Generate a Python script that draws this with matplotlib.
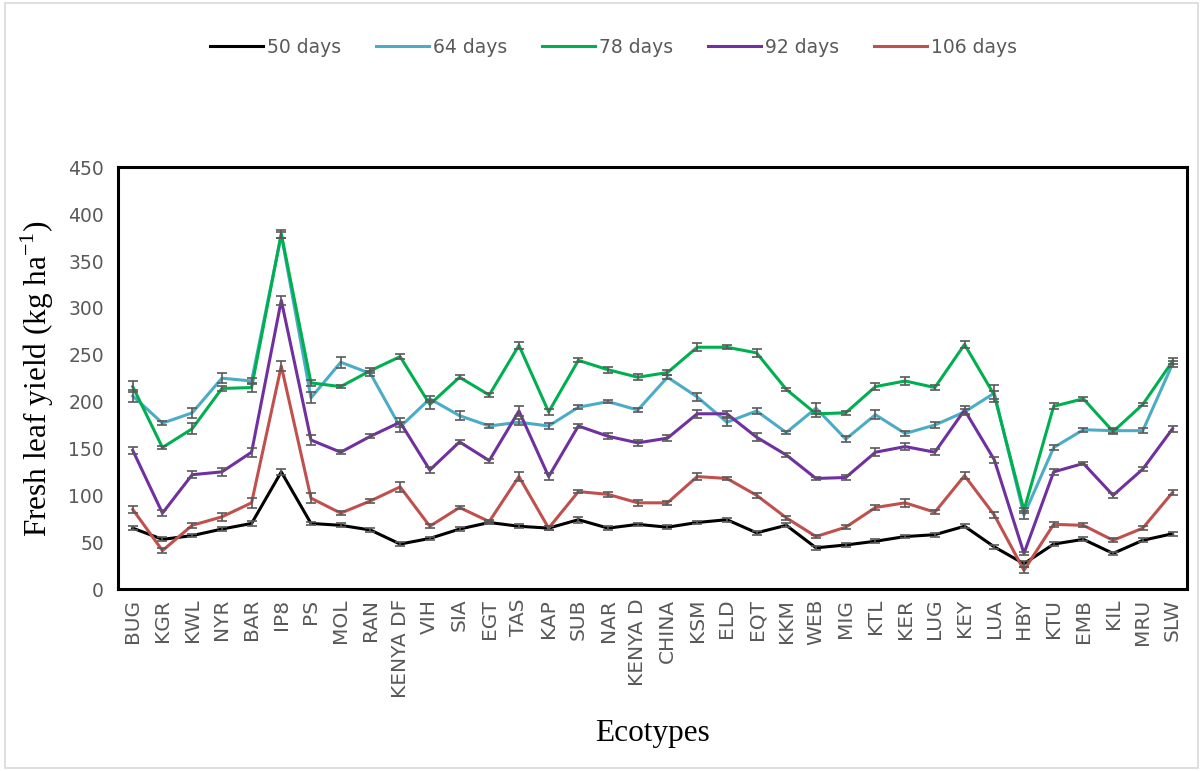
import numpy as np
import matplotlib
matplotlib.use('Agg')
import matplotlib.pyplot as plt
from matplotlib.patches import Rectangle

ecotypes = ["BUG", "KGR", "KWL", "NYR", "BAR", "IP8", "PS", "MOL", "RAN", "KENYA DF",
            "VIH", "SIA", "EGT", "TAS", "KAP", "SUB", "NAR", "KENYA D", "CHINA", "KSM",
            "ELD", "EQT", "KKM", "WEB", "MIG", "KTL", "KER", "LUG", "KEY", "LUA",
            "HBY", "KTU", "EMB", "KIL", "MRU", "SLW"]

d50 = [65, 53, 57, 64, 70, 125, 70, 68, 63, 48,
       54, 64, 71, 67, 65, 74, 65, 69, 66, 71,
       74, 60, 68, 44, 47, 51, 56, 58, 67, 45,
       27, 48, 53, 38, 52, 59]
d64 = [206, 177, 188, 225, 222, 378, 204, 242, 230, 173,
       203, 185, 174, 178, 174, 194, 200, 191, 226, 205,
       178, 190, 167, 193, 160, 186, 166, 175, 189, 209,
       79, 151, 170, 169, 169, 240]
d78 = [216, 151, 171, 214, 215, 379, 220, 216, 233, 248,
       197, 226, 207, 260, 189, 244, 234, 226, 231, 258,
       258, 252, 213, 187, 188, 216, 222, 215, 261, 207,
       84, 195, 203, 168, 197, 243]
d92 = [148, 81, 122, 125, 146, 308, 159, 146, 163, 178,
       127, 157, 137, 190, 120, 174, 163, 156, 161, 187,
       187, 162, 143, 118, 119, 146, 152, 146, 191, 138,
       38, 125, 134, 100, 128, 171]
d106 = [85, 41, 68, 77, 92, 238, 97, 81, 94, 109,
        67, 87, 72, 120, 65, 104, 101, 92, 92, 120,
        118, 100, 76, 56, 66, 87, 92, 82, 121, 79,
        20, 69, 68, 52, 65, 103]

# error bar half widths
e50 = [2, 2, 2, 2, 3, 3, 2, 2, 2, 2, 2, 2, 2, 2, 2, 3, 2, 2, 2, 2,
       2, 2, 2, 2, 2, 2, 2, 2, 2, 2, 3, 2, 2, 2, 2, 2]
e64 = [6, 2, 5, 5, 3, 3, 6, 6, 3, 5, 3, 5, 2, 3, 3, 2, 2, 2, 2, 4,
       4, 3, 2, 6, 3, 5, 3, 3, 3, 9, 4, 3, 2, 3, 3, 3]
e78 = [6, 2, 6, 3, 5, 4, 3, 2, 3, 3, 5, 2, 2, 4, 3, 2, 3, 3, 3, 4,
       2, 4, 2, 3, 2, 4, 4, 3, 4, 4, 3, 3, 2, 3, 2, 3]
e92 = [4, 3, 4, 4, 5, 5, 5, 2, 2, 5, 3, 2, 2, 5, 4, 2, 3, 3, 3, 4,
       3, 4, 2, 2, 3, 4, 4, 3, 4, 3, 2, 3, 2, 3, 2, 3]
e106 = [4, 3, 3, 4, 5, 5, 5, 2, 2, 5, 2, 2, 2, 5, 2, 2, 3, 3, 2, 4,
        2, 3, 2, 2, 2, 3, 4, 2, 4, 3, 3, 3, 2, 2, 2, 3]

labels = ["50 days", "64 days", "78 days", "92 days", "106 days"]
colors = ["#000000", "#4BACC6", "#00B050", "#7030A0", "#C0504D"]
series = [d50, d64, d78, d92, d106]
errors = [e50, e64, e78, e92, e106]

fig = plt.figure(figsize=(12.03, 7.71), dpi=100)
ax = fig.add_axes([0.098, 0.236, 0.889, 0.547])

x = np.arange(len(ecotypes))
handles = []
for vals, err, col, lab in zip(series, errors, colors, labels):
    ax.errorbar(x, vals, yerr=err, fmt='none', ecolor='#595959',
                elinewidth=1.2, capsize=3.6, capthick=1.2, zorder=3)
    h, = ax.plot(x, vals, color=col, lw=2.2, label=lab, zorder=2)
    handles.append(h)

ax.set_xlim(-0.5, len(ecotypes) - 0.5)
ax.set_ylim(0, 450)
ax.set_yticks(np.arange(0, 451, 50))
ax.set_xticks(x)
ax.set_xticklabels(ecotypes, rotation=90)
ax.tick_params(axis='both', length=0, labelcolor='#595959')
ax.tick_params(axis='x', pad=7, labelsize=14.5)
ax.tick_params(axis='y', pad=10, labelsize=13.5)
for s in ax.spines.values():
    s.set_linewidth(2.2)
    s.set_color('black')

ax.set_ylabel("Fresh leaf yield (kg ha$^{\\mathregular{-1}}$)", family='Liberation Serif',
              fontsize=22.5, labelpad=9)
ax.set_xlabel("Ecotypes", family='Liberation Serif', fontsize=22.5, labelpad=15)

fig.legend(handles=handles, loc='center', bbox_to_anchor=(0.51, 0.939),
           ncol=5, frameon=False, fontsize=13.5, handlelength=2.8,
           handletextpad=0.2, columnspacing=1.9, labelcolor='#595959')

fig.patches.append(Rectangle((0.004, 0.004), 0.992, 0.992, transform=fig.transFigure,
                             fill=False, edgecolor='#d9d9d9', lw=1.2))

fig.savefig("out.png", dpi=100)
